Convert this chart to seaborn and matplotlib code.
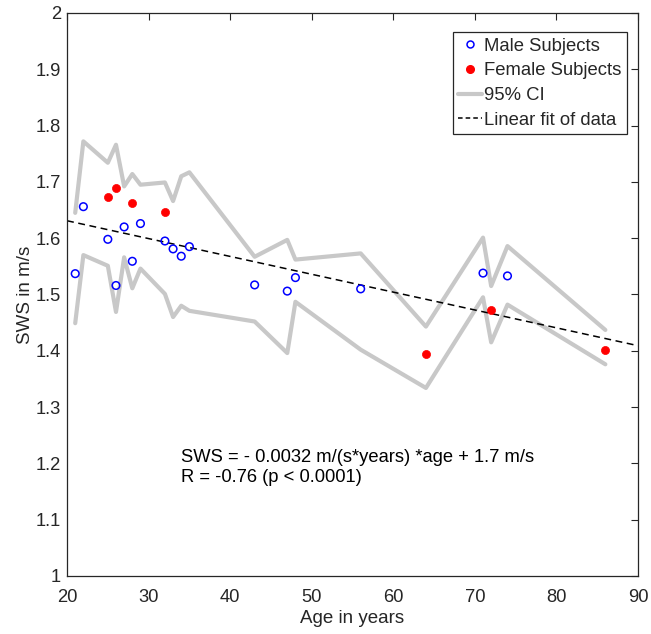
import numpy as np
import pandas as pd
import matplotlib
matplotlib.use("Agg")
import matplotlib.pyplot as plt
import seaborn as sns
from matplotlib.lines import Line2D

# ---- data ----
male_age = [21, 22, 25, 26, 27, 28, 29, 32, 33, 34, 35, 43, 47, 48, 56, 71, 74]
male_sws = [1.537, 1.656, 1.598, 1.516, 1.620, 1.559, 1.626, 1.595, 1.581, 1.568,
            1.585, 1.517, 1.506, 1.530, 1.510, 1.538, 1.533]

female_age = [25, 26, 28, 32, 64, 72, 86]
female_sws = [1.674, 1.690, 1.662, 1.646, 1.395, 1.473, 1.401]

ci_age = [21, 22, 25, 26, 27, 28, 29, 32, 33, 34, 35, 43, 47, 48, 56, 64, 71, 72, 74, 86]
ci_upper = [1.645, 1.772, 1.734, 1.766, 1.692, 1.714, 1.695, 1.699, 1.666, 1.710,
            1.717, 1.567, 1.597, 1.562, 1.573, 1.443, 1.601, 1.515, 1.586, 1.437]
ci_lower = [1.449, 1.570, 1.551, 1.469, 1.566, 1.511, 1.546, 1.501, 1.460, 1.480,
            1.471, 1.452, 1.396, 1.487, 1.402, 1.334, 1.495, 1.415, 1.482, 1.376]

fit_slope = -0.00317
fit_intercept = 1.6944
fit_range = [20, 90]

x_ticks = [20, 30, 40, 50, 60, 70, 80, 90]
y_ticks = [1, 1.1, 1.2, 1.3, 1.4, 1.5, 1.6, 1.7, 1.8, 1.9, 2]

eq_text = "SWS = - 0.0032 m/(s*years) *age + 1.7 m/s"
r_text = "R = -0.76 (p < 0.0001)"

# ---- styling ----
sns.set_style("white")
plt.rcParams["font.family"] = ["Liberation Sans", "DejaVu Sans"]

fig = plt.figure(figsize=(6.51, 6.34), dpi=100)
ax = fig.add_axes([0.103, 0.0915, 0.877, 0.888])

ci_df = pd.DataFrame({"age": ci_age, "upper": ci_upper, "lower": ci_lower})
gray = "#c8c8c8"
sns.lineplot(data=ci_df, x="age", y="upper", ax=ax, color=gray, lw=3, sort=False,
             estimator=None, zorder=1)
sns.lineplot(data=ci_df, x="age", y="lower", ax=ax, color=gray, lw=3, sort=False,
             estimator=None, zorder=1)

fit_x = np.array(fit_range, dtype=float)
fit_df = pd.DataFrame({"age": fit_x, "sws": fit_slope * fit_x + fit_intercept})
sns.lineplot(data=fit_df, x="age", y="sws", ax=ax, color="black", lw=1.1,
             linestyle=(0, (4.5, 3)), zorder=2)

male_df = pd.DataFrame({"age": male_age, "sws": male_sws})
female_df = pd.DataFrame({"age": female_age, "sws": female_sws})
sns.scatterplot(data=male_df, x="age", y="sws", ax=ax, marker="o", s=30,
                facecolor="none", edgecolor="#0000ff", linewidth=1.1, zorder=3)
sns.scatterplot(data=female_df, x="age", y="sws", ax=ax, marker="o", s=34,
                color="#ff0000", edgecolor="#ff0000", linewidth=0.5, zorder=3)

ax.set_xlim(20, 90)
ax.set_ylim(1, 2)
ax.set_xticks(x_ticks)
ax.set_yticks(y_ticks)
ax.set_xticklabels([str(t) for t in x_ticks])
ax.set_yticklabels([f"{t:g}" for t in y_ticks])
ax.tick_params(direction="in", length=5, width=0.8, colors="#262626",
               labelsize=13.2, top=True, right=True, labelcolor="#262626")
ax.tick_params(axis="x", pad=9.5)
ax.tick_params(axis="y", pad=4.3)
for sp in ax.spines.values():
    sp.set_visible(True)
    sp.set_color("#262626")
    sp.set_linewidth(0.9)

ax.set_xlabel("Age in years", fontsize=13.5, color="#262626", labelpad=3)
ax.set_ylabel("SWS in m/s", fontsize=13.5, color="#262626", labelpad=1)

ax.text(34.0, 1.2097, eq_text, fontsize=13.2, va="center", ha="left", color="black")
ax.text(34.0, 1.1741, r_text, fontsize=13.2, va="center", ha="left", color="black")

handles = [
    Line2D([], [], marker="o", ls="none", markerfacecolor="none",
           markeredgecolor="#0000ff", markersize=5, markeredgewidth=1.1),
    Line2D([], [], marker="o", ls="none", markerfacecolor="#ff0000",
           markeredgecolor="#ff0000", markersize=5.5),
    Line2D([], [], color=gray, lw=3),
    Line2D([], [], color="black", lw=1.1, linestyle=(0, (3, 2))),
]
labels = ["Male Subjects", "Female Subjects", "95% CI", "Linear fit of data"]
leg = ax.legend(handles, labels, loc="upper right",
                bbox_to_anchor=(0.9807, 0.9662), borderaxespad=0,
                fontsize=13.3, frameon=True, fancybox=False, shadow=False,
                handlelength=1.3, handletextpad=0.1, borderpad=0.3,
                labelspacing=0.42, framealpha=1)
leg.get_frame().set_edgecolor("#262626")
leg.get_frame().set_linewidth(0.9)

fig.savefig("out.png", dpi=100)
